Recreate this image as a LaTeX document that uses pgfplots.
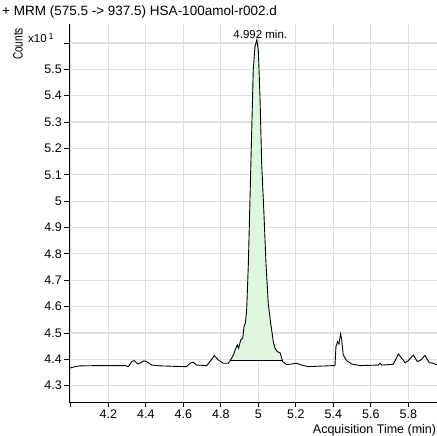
\documentclass[border=0pt]{standalone}
\usepackage{pgfplots}
\pgfplotsset{compat=1.18}
\usepackage{fontspec}
\setmainfont{Liberation Sans}
\definecolor{peakfill}{RGB}{222,246,222}
\definecolor{gridc}{RGB}{222,222,222}
\begin{document}
\begin{tikzpicture}
\begin{axis}[
  name=ax, at={(0,0)}, anchor=south west,
  scale only axis, width=367.7pt, height=378.5pt,
  xmin=3.992, xmax=5.953, ymin=4.236, ymax=5.672,
  axis x line*=bottom, axis y line*=left,
  tick align=outside, major tick length=5pt,
  xtick={4.0,4.2,4.4,4.6,4.8,5.0,5.2,5.4,5.6,5.8},
  xticklabels={,4.2,4.4,4.6,4.8,5,5.2,5.4,5.6,5.8},
  ytick={4.3,4.4,4.5,4.6,4.7,4.8,4.9,5.0,5.1,5.2,5.3,5.4,5.5,5.6},
  yticklabels={4.3,4.4,4.5,4.6,4.7,4.8,4.9,5,5.1,5.2,5.3,5.4,5.5,},
  grid=major, grid style={gridc, line width=1.2pt},
  axis line style={black, line width=1pt},
  tick style={black, line width=0.8pt},
  ticklabel style={font=\fontsize{12.5}{14}\selectfont},
  xticklabel style={yshift=1pt},
  yticklabel style={xshift=1pt},
  /pgf/number format/assume math mode=true,
]
% shaded integrated peak
\addplot[fill=peakfill, draw=none] coordinates {
(4.852,4.397) (4.867,4.416) (4.876,4.435) (4.888,4.454) (4.895,4.442)
(4.906,4.473) (4.917,4.480) (4.924,4.524) (4.931,4.537) (4.938,4.587)
(4.947,4.764) (4.956,5.017) (4.965,5.270) (4.973,5.497) (4.982,5.586)
(4.992,5.612) (5.000,5.573) (5.009,5.396) (5.018,5.143) (5.030,4.954)
(5.041,4.764) (5.053,4.612) (5.066,4.537) (5.080,4.467) (5.089,4.442)
(5.101,4.429) (5.116,4.425) (5.125,4.404) (5.130,4.397)
} -- cycle;
\addplot[black, line width=0.9pt] coordinates {(4.852,4.397) (5.130,4.397)};
% chromatogram
\addplot[black, line width=0.9pt] coordinates {
(3.992,4.366) (4.022,4.372) (4.049,4.375) (4.156,4.376) (4.290,4.376)
(4.307,4.372) (4.325,4.391) (4.339,4.395) (4.357,4.382) (4.373,4.387)
(4.390,4.394) (4.405,4.391) (4.431,4.378) (4.476,4.375) (4.560,4.373)
(4.618,4.372) (4.636,4.385) (4.653,4.389) (4.671,4.378) (4.725,4.376)
(4.742,4.391) (4.765,4.414) (4.787,4.397) (4.813,4.385) (4.840,4.385)
(4.852,4.397) (4.867,4.416) (4.876,4.435) (4.888,4.454) (4.895,4.442)
(4.906,4.473) (4.917,4.480) (4.924,4.524) (4.931,4.537) (4.938,4.587)
(4.947,4.764) (4.956,5.017) (4.965,5.270) (4.973,5.497) (4.982,5.586)
(4.992,5.612) (5.000,5.573) (5.009,5.396) (5.018,5.143) (5.030,4.954)
(5.041,4.764) (5.053,4.612) (5.066,4.537) (5.080,4.467) (5.089,4.442)
(5.101,4.429) (5.116,4.425) (5.125,4.404) (5.130,4.391) (5.151,4.380)
(5.178,4.382) (5.205,4.385) (5.231,4.378) (5.267,4.372) (5.330,4.374)
(5.400,4.376) (5.409,4.376) (5.414,4.448) (5.423,4.467) (5.430,4.458)
(5.439,4.496) (5.445,4.473) (5.453,4.416) (5.471,4.395) (5.498,4.382)
(5.542,4.376) (5.640,4.378) (5.649,4.385) (5.658,4.378) (5.720,4.381)
(5.747,4.420) (5.765,4.404) (5.783,4.387) (5.800,4.395) (5.827,4.416)
(5.848,4.391) (5.866,4.397) (5.889,4.414) (5.912,4.387) (5.933,4.385)
(5.953,4.378)
};
\node[anchor=south, inner sep=1pt, xshift=3.5pt, font=\fontsize{11.5}{13}\selectfont]
  at (axis cs:4.992,5.612) {4.992 min.};
\end{axis}
\node[anchor=west, inner sep=0pt, font=\fontsize{13.5}{15}\selectfont] at (-67.3pt,390.5pt)
  {+ MRM (575.5 -> 937.5) HSA-100amol-r002.d};
\node[rotate=90, inner sep=0pt, font=\fontsize{10}{12}\selectfont] at (-51.3pt,358.5pt)
  {\scalebox{1}[1.35]{Counts}};
\node[anchor=west, inner sep=0pt, font=\fontsize{11.5}{13}\selectfont] at (-41.3pt,364.5pt)
  {x10\,\raisebox{0.45ex}{\fontsize{9}{10}\selectfont 1}};
\node[anchor=east, inner sep=0pt, font=\fontsize{12.5}{14}\selectfont] at (367pt,-27.5pt)
  {Acquisition Time (min)};
\pgfresetboundingbox
\useasboundingbox (-69.3pt,-33.5pt) rectangle (367.7pt,402.5pt);
\end{tikzpicture}
\end{document}
